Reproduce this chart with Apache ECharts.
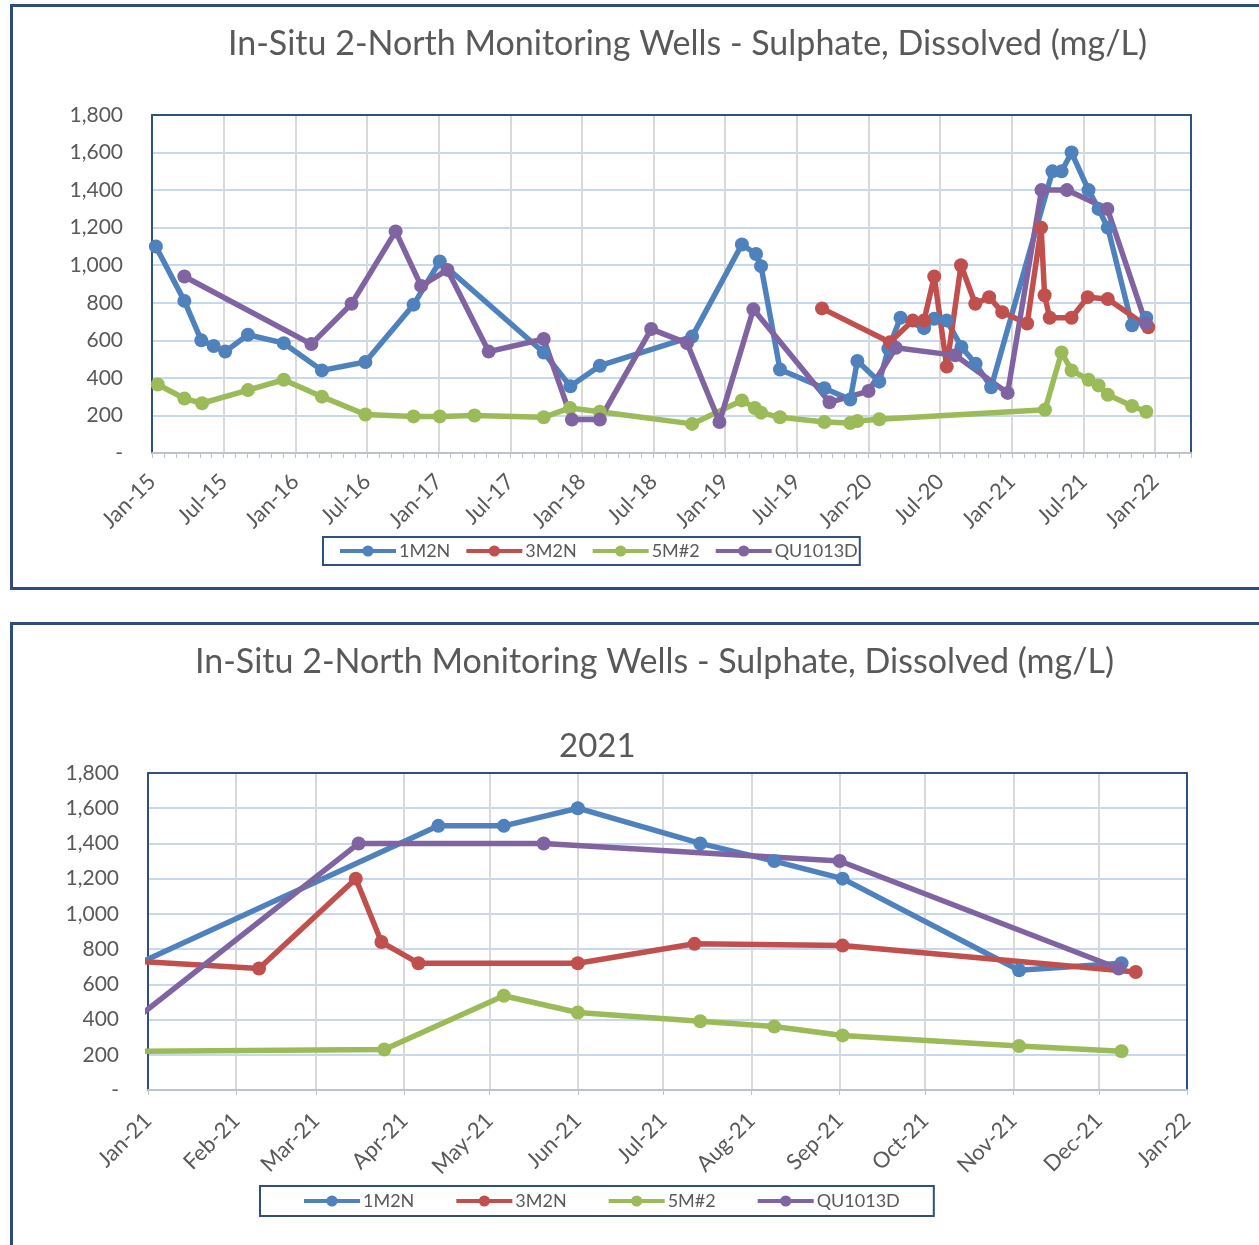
<!DOCTYPE html>
<html lang="en">
<head>
  <meta charset="UTF-8">
  <title>In-Situ 2-North Monitoring Wells - Sulphate, Dissolved (mg/L)</title>
  <script src="https://cdn.jsdelivr.net/npm/echarts@6/dist/echarts.min.js"></script>
  <style>
    body {
      margin: 0;
      padding: 0;
      background: #fff;
      width: 1259px;
      height: 1245px;
      overflow: hidden;
      position: relative;
      font-family: Lato, sans-serif;
    }
    .box {
      position: absolute;
      border: 3px solid #2f4d7a;
      background: #fff;
    }
    #box1 { left: 10px; top: 4px; width: 1300px; height: 580px; }
    #box2 { left: 10px; top: 622px; width: 1300px; height: 700px; }
    .chart { position: absolute; left: 0; width: 1259px; }
    #chart1 { top: 0; height: 600px; }
    #chart2 { top: 610px; height: 635px; }
  </style>
</head>
<body>
  <div class="box" id="box1"></div>
  <div class="box" id="box2"></div>
  <div class="chart" id="chart1"></div>
  <div class="chart" id="chart2"></div>

  <script>
    // wells and colours
    var wells = ['1M2N', '3M2N', '5M#2', 'QU1013D'];
    var colors = ['#4f81bd', '#c0504d', '#9bbb59', '#8064a2'];
    var monthNames = ['Jan', 'Feb', 'Mar', 'Apr', 'May', 'Jun', 'Jul', 'Aug', 'Sep', 'Oct', 'Nov', 'Dec'];
    var titleText = 'In-Situ 2-North Monitoring Wells - Sulphate, Dissolved (mg/L)';

    // sample date, sulphate mg/L
    var data1M2N = [
      ['2015-01-11', 1100], ['2015-03-23', 810], ['2015-05-05', 600], ['2015-06-06', 570],
      ['2015-07-05', 540], ['2015-09-02', 630], ['2015-12-02', 585], ['2016-03-08', 440],
      ['2016-06-27', 485], ['2016-10-29', 790], ['2017-01-04', 1020], ['2017-09-25', 535],
      ['2017-12-02', 355], ['2018-02-15', 465], ['2018-10-08', 620], ['2019-02-12', 1110],
      ['2019-03-19', 1060], ['2019-04-01', 995], ['2019-05-19', 445], ['2019-09-10', 345],
      ['2019-11-15', 285], ['2019-12-03', 490], ['2020-01-29', 380], ['2020-02-20', 555],
      ['2020-03-22', 720], ['2020-05-21', 665], ['2020-06-16', 715], ['2020-07-18', 705],
      ['2020-08-25', 565], ['2020-09-30', 475], ['2020-11-09', 350], ['2021-04-13', 1500],
      ['2021-05-06', 1500], ['2021-06-01', 1600], ['2021-07-14', 1400], ['2021-08-09', 1300],
      ['2021-09-02', 1200], ['2021-11-03', 680], ['2021-12-09', 720]
    ];
    var data3M2N = [
      ['2019-09-04', 770], ['2020-02-24', 590], ['2020-04-22', 705], ['2020-05-21', 705],
      ['2020-06-16', 940], ['2020-07-18', 460], ['2020-08-24', 1000], ['2020-09-29', 795],
      ['2020-11-04', 830], ['2020-12-07', 750], ['2021-02-09', 690], ['2021-03-15', 1200],
      ['2021-03-24', 840], ['2021-04-06', 720], ['2021-06-01', 720], ['2021-07-12', 830],
      ['2021-09-02', 820], ['2021-12-14', 670]
    ];
    var data5M2 = [
      ['2015-01-16', 365], ['2015-03-23', 290], ['2015-05-07', 265], ['2015-09-02', 335],
      ['2015-12-02', 390], ['2016-03-08', 300], ['2016-06-27', 205], ['2016-10-29', 195],
      ['2017-01-04', 195], ['2017-04-01', 200], ['2017-09-25', 190], ['2017-12-01', 240],
      ['2018-02-15', 220], ['2018-10-08', 155], ['2019-02-12', 280], ['2019-03-16', 240],
      ['2019-04-01', 215], ['2019-05-19', 190], ['2019-09-10', 165], ['2019-11-15', 160],
      ['2019-12-03', 170], ['2020-01-29', 180], ['2021-03-25', 230], ['2021-05-06', 535],
      ['2021-06-01', 440], ['2021-07-14', 390], ['2021-08-09', 360], ['2021-09-02', 310],
      ['2021-11-03', 250], ['2021-12-09', 220]
    ];
    var dataQU1013D = [
      ['2015-03-23', 940], ['2016-02-11', 580], ['2016-05-23', 795], ['2016-09-13', 1180],
      ['2016-11-17', 890], ['2017-01-24', 975], ['2017-05-07', 540], ['2017-09-25', 607],
      ['2017-12-06', 178], ['2018-02-15', 178], ['2018-06-25', 660], ['2018-09-25', 585],
      ['2018-12-17', 165], ['2019-03-12', 765], ['2019-09-23', 270], ['2020-01-01', 330],
      ['2020-03-10', 560], ['2020-08-09', 520], ['2020-12-21', 320], ['2021-03-16', 1400],
      ['2021-05-20', 1400], ['2021-09-01', 1300], ['2021-12-08', 690]
    ];
    var allData = [data1M2N, data3M2N, data5M2, dataQU1013D];

    // months since Jan-2015 (top chart x axis)
    function monthIndex(s) {
      var p = s.split('-').map(Number);
      var dim = new Date(p[0], p[1], 0).getDate();
      return (p[0] - 2015) * 12 + (p[1] - 1) + (p[2] - 1) / dim;
    }

    var gray = '#595959';
    var navy = '#2f4f7f';
    var axisGray = '#bcc3cd';

    function yAxes() {
      return [
        {
          type: 'value',
          min: 0, max: 1800, interval: 200,
          axisLine: { show: true, onZero: false, lineStyle: { color: navy, width: 2 } },
          axisTick: { show: false },
          splitLine: { lineStyle: { color: '#c8d8ec', width: 2 } },
          axisLabel: {
            color: gray, fontSize: 21, fontFamily: 'Lato', margin: 29,
            formatter: function (v) { return v === 0 ? '-' : v.toLocaleString('en-US'); }
          }
        },
        // right edge of the plot frame
        {
          type: 'value', position: 'right',
          min: 0, max: 1800, interval: 200,
          axisLine: { show: true, onZero: false, lineStyle: { color: navy, width: 2 } },
          axisTick: { show: false }, axisLabel: { show: false }, splitLine: { show: false }
        }
      ];
    }

    // top edge of the plot frame
    function topAxis(type, min, max) {
      return {
        type: type, position: 'top', min: min, max: max,
        axisLine: { show: true, onZero: false, lineStyle: { color: navy, width: 2 } },
        axisTick: { show: false }, axisLabel: { show: false }, splitLine: { show: false }
      };
    }

    function buildSeries(xf) {
      return wells.map(function (w, i) {
        return {
          name: w,
          type: 'line',
          data: allData[i].map(function (p) { return [xf(p[0]), p[1]]; }),
          symbol: 'circle',
          symbolSize: 14,
          clip: true,
          lineStyle: { color: colors[i], width: 5.5 },
          itemStyle: { color: colors[i] },
          emphasis: { disabled: true }
        };
      });
    }

    function legendOpt(left, top, gap, pad) {
      return {
        left: left, top: top,
        itemGap: gap,
        itemWidth: 56, itemHeight: 14,
        padding: pad,
        borderColor: navy, borderWidth: 2,
        lineStyle: { width: 4 },
        textStyle: { color: gray, fontSize: 18, fontFamily: 'Lato', padding: [0, 0, 0, -2] },
        data: wells
      };
    }

    // ---------- chart 1: full record ----------
    var chart1 = echarts.init(document.getElementById('chart1'));
    chart1.setOption({
      animation: false,
      title: {
        text: titleText, left: 228, top: 27, padding: 0,
        textStyle: { color: gray, fontSize: 34, fontWeight: 'normal', fontFamily: 'Lato' }
      },
      legend: legendOpt(323, 537, 14, [5, 2, 5, 15]),
      grid: { left: 152, right: 68, top: 115, bottom: 147 },
      xAxis: [
        {
          type: 'value',
          min: 0, max: 87, interval: 6,
          axisLine: { lineStyle: { color: axisGray, width: 2 } },
          axisTick: { show: true, length: 5, lineStyle: { color: axisGray } },
          minorTick: { show: true, splitNumber: 6, length: 5, lineStyle: { color: axisGray } },
          splitLine: { show: true, lineStyle: { color: '#d9d9d9', width: 2 } },
          axisLabel: {
            color: gray, fontSize: 22, fontFamily: 'Lato', rotate: 45, margin: 25,
            showMaxLabel: false,
            formatter: function (v) {
              if (v % 6 !== 0) return '';
              return (v % 12 === 0 ? 'Jan' : 'Jul') + '-' + (15 + Math.floor(v / 12));
            }
          }
        },
        topAxis('value', 0, 87)
      ],
      yAxis: yAxes(),
      series: buildSeries(monthIndex)
    });

    // ---------- chart 2: 2021 only ----------
    var chart2 = echarts.init(document.getElementById('chart2'));
    chart2.setOption({
      animation: false,
      title: [
        {
          text: titleText, left: 195, top: 35, padding: 0,
          textStyle: { color: gray, fontSize: 34, fontWeight: 'normal', fontFamily: 'Lato' }
        },
        {
          text: '2021', left: 559, top: 120, padding: 0,
          textStyle: { color: gray, fontSize: 33, fontWeight: 'normal', fontFamily: 'Lato' }
        }
      ],
      legend: legendOpt(260, 576, 40, [6, 34, 6, 42]),
      grid: { left: 148, right: 72, top: 163, bottom: 155 },
      xAxis: [
        {
          type: 'time',
          min: '2021-01-01', max: '2022-01-01',
          splitNumber: 12,
          axisLine: { lineStyle: { color: axisGray, width: 2 } },
          axisTick: { show: true, length: 5, lineStyle: { color: axisGray } },
          splitLine: { show: true, lineStyle: { color: '#d9d9d9', width: 2 } },
          axisLabel: {
            color: gray, fontSize: 22, fontFamily: 'Lato', rotate: 45, margin: 27,
            showMinLabel: true, showMaxLabel: true,
            formatter: function (v) {
              var d = new Date(v);
              return monthNames[d.getMonth()] + '-' + String(d.getFullYear()).slice(2);
            }
          }
        },
        topAxis('time', '2021-01-01', '2022-01-01')
      ],
      yAxis: yAxes(),
      series: buildSeries(function (s) { return s; })
    });
  </script>
</body>
</html>
